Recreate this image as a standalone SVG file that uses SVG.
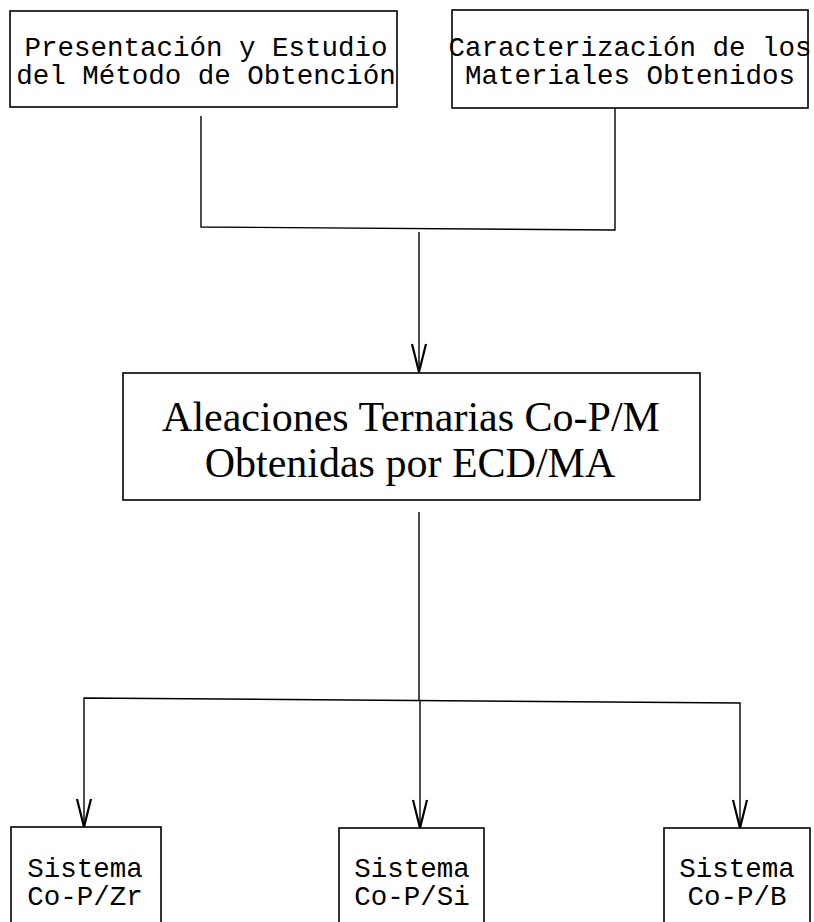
<svg xmlns="http://www.w3.org/2000/svg" width="814" height="922" viewBox="0 0 814 922">
<defs>
<style>
.box{fill:none;stroke:#000;stroke-width:1.6}
.mono{font-family:"Liberation Mono","Courier New",monospace;font-size:27.5px;fill:#000}
.serif{font-family:"Liberation Serif","Times New Roman",serif;font-size:42px;fill:#000}
.conn{fill:none;stroke:#000;stroke-width:1.4}
</style>
<marker id="arr" markerWidth="32" markerHeight="18" refX="29" refY="8" orient="auto" markerUnits="userSpaceOnUse" viewBox="0 0 32 16">
<path d="M1,1 L29,8 L1,15" fill="none" stroke="#000" stroke-width="2.2"/>
</marker>
</defs>
<rect width="814" height="922" fill="#fff"/>
<g id="node-presentacion">
<rect class="box" x="10" y="11" width="387" height="96"/>
<text class="mono" x="206" y="56" text-anchor="middle" font-size="28">Presentación y Estudio</text>
<text class="mono" x="206" y="84" text-anchor="middle" font-size="28">del Método de Obtención</text>
</g>
<g id="node-caracterizacion">
<rect class="box" x="452" y="10" width="356" height="98"/>
<text class="mono" x="630" y="56" text-anchor="middle" font-size="27">Caracterización de los</text>
<text class="mono" x="630" y="84" text-anchor="middle" font-size="27">Materiales Obtenidos</text>
</g>
<g id="node-aleaciones">
<rect class="box" x="123" y="373" width="577" height="127"/>
<text class="serif" x="411" y="431" text-anchor="middle">Aleaciones Ternarias Co-P/M</text>
<text class="serif" x="410" y="477" text-anchor="middle">Obtenidas por ECD/MA</text>
</g>
<g id="node-zr">
<rect class="box" x="11" y="827" width="150" height="110"/>
<text class="mono" x="85" y="877" text-anchor="middle">Sistema</text>
<text class="mono" x="85" y="905" text-anchor="middle">Co-P/Zr</text>
</g>
<g id="node-si">
<rect class="box" x="339" y="828" width="145" height="110"/>
<text class="mono" x="412" y="877" text-anchor="middle">Sistema</text>
<text class="mono" x="412" y="905" text-anchor="middle">Co-P/Si</text>
</g>
<g id="node-b">
<rect class="box" x="664" y="828" width="146" height="110"/>
<text class="mono" x="737" y="877" text-anchor="middle">Sistema</text>
<text class="mono" x="737" y="905" text-anchor="middle">Co-P/B</text>
</g>
<g id="connectors">
<polyline class="conn" points="201,116 201,227 615,230 615,108"/>
<line class="conn" x1="419" y1="232" x2="419" y2="372" marker-end="url(#arr)"/>
<line class="conn" x1="419" y1="512" x2="419" y2="700"/>
<polyline class="conn" points="84,760 84,698 740,703 740,760"/>
<line class="conn" x1="84" y1="760" x2="84" y2="827" marker-end="url(#arr)"/>
<line class="conn" x1="420" y1="700" x2="420" y2="828" marker-end="url(#arr)"/>
<line class="conn" x1="740" y1="760" x2="740" y2="828" marker-end="url(#arr)"/>
</g>
</svg>
